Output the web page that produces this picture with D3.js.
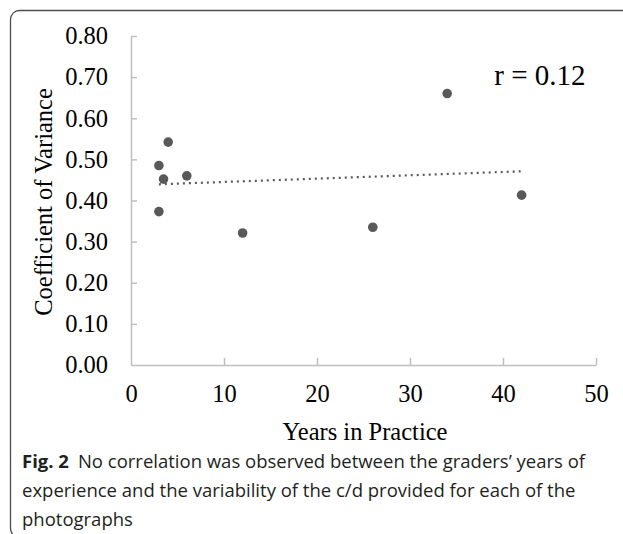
<!DOCTYPE html>
<html>
<head>
    <meta charset="utf-8">
    <style>
        body {
            margin: 0;
            background-color: #FFF;
        }
        svg { display: block; }
    </style>
</head>
<body>
<div id="chartArea"></div>
<script src="https://cdnjs.cloudflare.com/ajax/libs/d3/7.8.5/d3.min.js"></script>

<script>
    /* -----------------------------------
        data
    ----------------------------------- */
    var years = [3, 3, 3.5, 4, 6, 12, 26, 34, 42];
    var variance = [0.485, 0.373, 0.452, 0.542, 0.46, 0.321, 0.335, 0.66, 0.413];

    var xTicks = [0, 10, 20, 30, 40, 50];
    var yTicks = [0, 0.1, 0.2, 0.3, 0.4, 0.5, 0.6, 0.7, 0.8];

    var xTitle = "Years in Practice";
    var yTitle = "Coefficient of Variance";
    var rLabel = "r = 0.12";

    var captionLines = [
        ["Fig. 2", "No correlation was observed between the graders\u2019 years of"],
        ["", "experience and the variability of the c/d provided for each of the"],
        ["", "photographs"]
    ];

    /* -----------------------------------
        initialize
    ----------------------------------- */
    var width = 623, height = 534;
    var plot = {left: 131, right: 596, top: 36, bottom: 365};
    var serif = "'Liberation Serif', 'Times New Roman', serif";

    var svg = d3.select("#chartArea").append("svg")
        .attr("width", width)
        .attr("height", height);

    // rounded frame, left/top visible
    svg.append("rect")
        .attr("x", 10.5).attr("y", 10.5)
        .attr("width", 700).attr("height", 527)
        .attr("rx", 9).attr("ry", 9)
        .attr("fill", "none")
        .attr("stroke", "#4d4d4d")
        .attr("stroke-width", 1.3);

    var x = d3.scaleLinear().domain([0, 50]).range([plot.left, plot.right]);
    var y = d3.scaleLinear().domain([0, 0.8]).range([plot.bottom, plot.top]);

    /* -----------------------------------
        axes
    ----------------------------------- */
    var yAxis = svg.append("g")
        .attr("transform", "translate(" + plot.left + ",0)")
        .call(d3.axisLeft(y).tickValues(yTicks).tickFormat(d3.format(".2f"))
            .tickSizeInner(-6).tickSizeOuter(0).tickPadding(23));

    var xAxis = svg.append("g")
        .attr("transform", "translate(0," + plot.bottom + ")")
        .call(d3.axisBottom(x).tickValues(xTicks).tickFormat(d3.format("d"))
            .tickSizeInner(-7).tickSizeOuter(0).tickPadding(20));

    [yAxis, xAxis].forEach(function(g) {
        g.attr("font-family", serif).attr("font-size", 24.5);
        g.select(".domain").attr("stroke", "#bfbfbf").attr("stroke-width", 1.5);
        g.selectAll(".tick line").attr("stroke", "#bfbfbf").attr("stroke-width", 1.5);
        g.selectAll(".tick text").attr("fill", "#000");
    });
    xAxis.selectAll(".tick").filter(function(d) { return d === 0; }).select("line").remove();
    yAxis.selectAll(".tick").filter(function(d) { return d === 0; }).select("line").remove();

    /* -----------------------------------
        trend line (least squares)
    ----------------------------------- */
    var mx = d3.mean(years), my = d3.mean(variance);
    var sxy = d3.sum(years, function(d, i) { return (d - mx) * (variance[i] - my); });
    var sxx = d3.sum(years, function(d) { return (d - mx) * (d - mx); });
    var slope = sxy / sxx, icpt = my - slope * mx;
    var xr = d3.extent(years);

    svg.append("line")
        .attr("x1", x(xr[0])).attr("y1", y(icpt + slope * xr[0]))
        .attr("x2", x(xr[1])).attr("y2", y(icpt + slope * xr[1]))
        .attr("stroke", "#595959")
        .attr("stroke-width", 2.2)
        .attr("stroke-dasharray", "2 4");

    /* -----------------------------------
        points
    ----------------------------------- */
    svg.selectAll(".pt").data(years).enter()
        .append("circle")
        .attr("class", "pt")
        .attr("cx", function(d) { return x(d); })
        .attr("cy", function(d, i) { return y(variance[i]); })
        .attr("r", 4.8)
        .attr("fill", "#595959");

    /* -----------------------------------
        labels
    ----------------------------------- */
    svg.append("text")
        .attr("x", 540).attr("y", 85)
        .attr("text-anchor", "middle")
        .attr("font-family", serif).attr("font-size", 29)
        .text(rLabel);

    svg.append("text")
        .attr("x", 365).attr("y", 440)
        .attr("text-anchor", "middle")
        .attr("font-family", serif).attr("font-size", 24.5)
        .text(xTitle);

    svg.append("text")
        .attr("transform", "translate(52,202) rotate(-90)")
        .attr("text-anchor", "middle")
        .attr("font-family", serif).attr("font-size", 24.5)
        .text(yTitle);

    /* -----------------------------------
        caption
    ----------------------------------- */
    var cap = svg.append("g")
        .attr("font-family", "'Open Sans', 'Noto Sans', sans-serif")
        .attr("font-size", 18.5)
        .attr("fill", "#231f20");

    captionLines.forEach(function(line, i) {
        var t = cap.append("text")
            .attr("x", 22)
            .attr("y", 468 + i * 29);
        if (line[0]) {
            t.append("tspan").attr("font-weight", "bold").text(line[0]);
            t.append("tspan").attr("dx", 9).text(line[1]);
        } else {
            t.text(line[1]);
        }
    });
</script>
</body>
</html>
